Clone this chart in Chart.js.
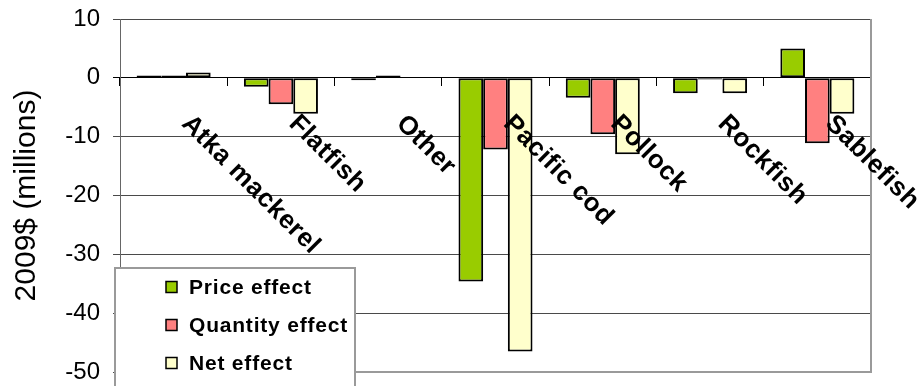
<!DOCTYPE html>
<html>
<head>
<meta charset="utf-8">
<script src="https://cdn.jsdelivr.net/npm/chart.js@4/dist/chart.umd.min.js"></script>
<style>
  html, body { margin: 0; padding: 0; background: #fff; }
  #wrap { width: 923px; height: 386px; position: relative; }
</style>
</head>
<body>
<div id="wrap"><canvas id="chart" width="923" height="386"></canvas></div>
<script>
// Fishery categories and the change in value by effect (2009$, millions)
const categories = ['Atka mackerel', 'Flatfish', 'Other', 'Pacific cod', 'Pollock', 'Rockfish', 'Sablefish'];
const priceEffect    = [0.4, -1.5, -0.4, -34.6, -3.4, -2.6, 5.0];
const quantityEffect = [0.4, -4.5,  0.4, -12.2, -9.6, -0.3, -11.1];
const netEffect      = [0.9, -6.1,  0.0, -46.5, -13.0, -2.6, -6.1];
const seriesNames = ['Price effect', 'Quantity effect', 'Net effect'];
const yTickValues = [10, 0, -10, -20, -30, -40, -50];
const yAxisTitle = '2009$ (millions)';

const seriesColors = ['#99CC00', '#FF8080', '#FFFFCC'];
const FONT = '"Liberation Sans", Arial, Helvetica, sans-serif';

// Category names written diagonally downward from the zero line, over the bars
const diagonalLabels = {
  id: 'diagonalLabels',
  afterDatasetsDraw(chart) {
    const {ctx, scales: {x, y}} = chart;
    const y0 = y.getPixelForValue(0);
    ctx.save();
    ctx.font = 'bold 26px ' + FONT;
    if ('letterSpacing' in ctx) ctx.letterSpacing = '0.6px';
    ctx.fillStyle = '#000';
    ctx.textAlign = 'left';
    ctx.textBaseline = 'alphabetic';
    chart.data.labels.forEach((lab, i) => {
      const cx = x.getPixelForValue(i);
      ctx.save();
      ctx.translate(cx + 7, y0 + 47);
      ctx.rotate(Math.PI / 4);
      ctx.fillText(lab, 0, 0);
      ctx.restore();
    });
    ctx.restore();
  }
};

// Plot-area frame (right and bottom edges)
const plotFrame = {
  id: 'plotFrame',
  beforeDatasetsDraw(chart) {
    const {ctx, chartArea: a} = chart;
    ctx.save();
    ctx.strokeStyle = '#9a9a9a';
    ctx.lineWidth = 2;
    ctx.beginPath();
    ctx.moveTo(a.left, a.bottom);
    ctx.lineTo(a.right, a.bottom);
    ctx.lineTo(a.right, a.top);
    ctx.stroke();
    ctx.restore();
  }
};

// Boxed legend sitting in the lower-left corner of the plot
const boxLegend = {
  id: 'boxLegend',
  afterDraw(chart) {
    const {ctx} = chart;
    const bx = 115, by = 268, bw = 240, bh = 130;
    ctx.save();
    ctx.fillStyle = '#fff';
    ctx.fillRect(bx, by, bw, bh);
    ctx.strokeStyle = '#9a9a9a';
    ctx.lineWidth = 2;
    ctx.strokeRect(bx, by, bw, bh);
    ctx.font = 'bold 21px ' + FONT;
    if ('letterSpacing' in ctx) ctx.letterSpacing = '0.8px';
    ctx.textBaseline = 'middle';
    ctx.textAlign = 'left';
    chart.data.datasets.forEach((ds, i) => {
      const cy = 287 + i * 38;
      ctx.fillStyle = ds.backgroundColor;
      ctx.fillRect(166, cy - 5.5, 11, 11);
      ctx.strokeStyle = '#000';
      ctx.lineWidth = 1.5;
      ctx.strokeRect(166, cy - 5.5, 11, 11);
      ctx.fillStyle = '#000';
      ctx.fillText(ds.label, 189, cy + 1);
    });
    ctx.restore();
  }
};

const seriesValues = [priceEffect, quantityEffect, netEffect];

new Chart(document.getElementById('chart'), {
  type: 'bar',
  data: {
    labels: categories,
    datasets: seriesNames.map((name, i) => ({
      label: name,
      data: seriesValues[i],
      backgroundColor: seriesColors[i],
      borderColor: '#000',
      borderWidth: 2,
      borderSkipped: false,
      categoryPercentage: 0.69,
      barPercentage: 1.0
    }))
  },
  options: {
    responsive: false,
    animation: false,
    devicePixelRatio: 1,
    layout: { padding: { left: 0, right: 52, top: 19, bottom: 14 } },
    plugins: {
      legend: { display: false },
      tooltip: { enabled: false }
    },
    scales: {
      x: {
        type: 'category',
        position: { y: 0 },
        offset: true,
        grid: {
          display: true,
          offset: true,
          drawOnChartArea: false,
          drawTicks: true,
          tickLength: 8,
          color: '#000',
          lineWidth: 1
        },
        border: { display: true, color: '#000', width: 1 },
        ticks: { display: false }
      },
      y: {
        min: -50,
        max: 10,
        afterBuildTicks(scale) {
          scale.ticks = yTickValues.map(v => ({ value: v }));
        },
        afterFit(scale) {
          scale.width = 120;
          scale.paddingTop = 0;
          scale.paddingBottom = 0;
        },
        grid: {
          color: ctx => (ctx.tick && ctx.tick.value === 0) ? '#000' : '#4a4a4a',
          lineWidth: 1,
          drawTicks: true,
          tickLength: 7
        },
        border: { display: true, color: '#666', width: 1 },
        ticks: {
          color: '#000',
          padding: 13,
          font: { family: FONT, size: 24 },
          callback: v => String(v)
        },
        title: {
          display: true,
          text: yAxisTitle,
          color: '#000',
          font: { family: FONT, size: 30 },
          padding: { top: 9, bottom: 0 }
        }
      }
    }
  },
  plugins: [plotFrame, diagonalLabels, boxLegend]
});
</script>
</body>
</html>
